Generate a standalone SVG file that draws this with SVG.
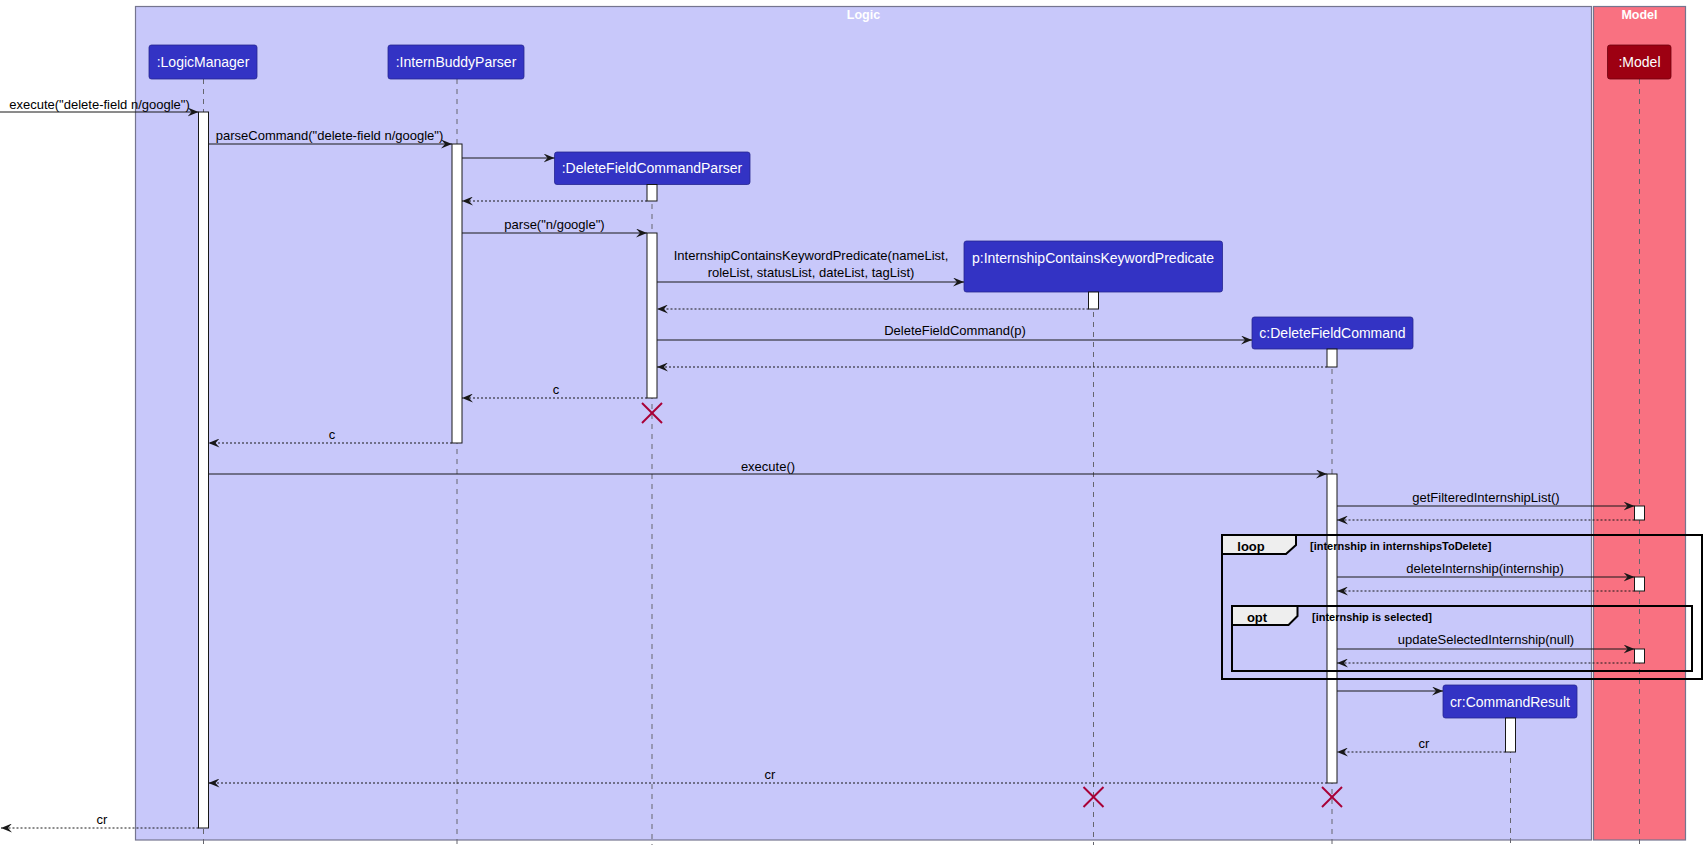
<svg xmlns="http://www.w3.org/2000/svg" width="1706" height="852" viewBox="0 0 1706 852">
<style>
text{font-family:"Liberation Sans",Arial,sans-serif}
.box{fill:#C8C8FA;stroke:#75758f;stroke-width:1.2}
.mbox{fill:#F97181;stroke:#75758f;stroke-width:1.2}
.title{fill:#fff;font-weight:bold;font-size:12.5px;text-anchor:middle}
.part{fill:#3333C4;stroke:#26268f;stroke-width:0.8}
.mpart{fill:#9D0012;stroke:#6d000c;stroke-width:0.8}
.ptext{fill:#fff;font-size:14px;text-anchor:middle}
.life{stroke:#66666e;stroke-width:1;stroke-dasharray:5,5;fill:none}
.act{fill:#fff;stroke:#181818;stroke-width:1}
.msg{stroke:#181818;stroke-width:1;fill:none;marker-end:url(#ah)}
.ret{stroke:#181818;stroke-width:1;fill:none;stroke-dasharray:2,2;marker-end:url(#ah)}
.lbl{fill:#000;font-size:13px;text-anchor:middle}
.x{stroke:#A80036;stroke-width:2}
.frame{fill:none;stroke:#000;stroke-width:2}
.tab{fill:#EEEEEE;stroke:#000;stroke-width:2}
.ftxt{font-weight:bold;font-size:13px;fill:#000}
.cond{font-weight:bold;font-size:11px;fill:#000}
</style>
<defs>
<marker id="ah" viewBox="0 0 11 9" refX="11" refY="4.5" markerWidth="11" markerHeight="9" markerUnits="userSpaceOnUse" orient="auto">
<path d="M0,0 L11,4.5 L0,9 L4,4.5 Z" fill="#181818"/>
</marker>
</defs>
<rect width="1706" height="852" fill="#fff"/>
<g id="box-logic">
<rect class="box" x="135.5" y="6.5" width="1456" height="833.5"/>
<text class="title" x="863.5" y="19">Logic</text>
</g>
<g id="box-model">
<rect class="mbox" x="1593.5" y="6.5" width="92" height="833.5"/>
<text class="title" x="1639.5" y="19">Model</text>
</g>
<g id="logicmanager">
<line class="life" x1="203.5" y1="79" x2="203.5" y2="845"/>
<rect class="part" x="149" y="45" width="108" height="34" rx="2.5"/>
<text class="ptext" x="203" y="67">:LogicManager</text>
<rect class="act" x="198.5" y="112" width="10" height="716"/>
</g>
<g id="internbuddyparser">
<line class="life" x1="457" y1="79" x2="457" y2="845"/>
<rect class="part" x="388" y="45" width="136" height="34" rx="2.5"/>
<text class="ptext" x="456" y="67">:InternBuddyParser</text>
<rect class="act" x="452" y="144" width="10" height="299"/>
</g>
<g id="deletefieldcommandparser">
<line class="life" x1="652" y1="184" x2="652" y2="845"/>
<rect class="part" x="554.5" y="152" width="195.5" height="32.5" rx="2.5"/>
<text class="ptext" x="652" y="173">:DeleteFieldCommandParser</text>
<rect class="act" x="647" y="184.5" width="10" height="16.5"/>
<rect class="act" x="647" y="233" width="10" height="165"/>
<line class="x" x1="642" y1="403" x2="662" y2="423"/>
<line class="x" x1="662" y1="403" x2="642" y2="423"/>
</g>
<g id="predicate">
<line class="life" x1="1093.5" y1="292" x2="1093.5" y2="845"/>
<rect class="part" x="964" y="241" width="258.5" height="51" rx="2.5"/>
<text class="ptext" x="1093" y="263">p:InternshipContainsKeywordPredicate</text>
<rect class="act" x="1088.5" y="292" width="10" height="17"/>
<line class="x" x1="1083.5" y1="787" x2="1103.5" y2="807"/>
<line class="x" x1="1103.5" y1="787" x2="1083.5" y2="807"/>
</g>
<g id="deletefieldcommand">
<line class="life" x1="1332" y1="349" x2="1332" y2="845"/>
<rect class="part" x="1252" y="317" width="161" height="32" rx="2.5"/>
<text class="ptext" x="1332.5" y="338">c:DeleteFieldCommand</text>
<rect class="act" x="1327" y="349" width="10" height="18"/>
<rect class="act" x="1327" y="474" width="10" height="309"/>
<line class="x" x1="1322" y1="787" x2="1342" y2="807"/>
<line class="x" x1="1342" y1="787" x2="1322" y2="807"/>
</g>
<g id="commandresult">
<line class="life" x1="1510.5" y1="718" x2="1510.5" y2="845"/>
<rect class="part" x="1443" y="685" width="134" height="33" rx="2.5"/>
<text class="ptext" x="1510" y="707">cr:CommandResult</text>
<rect class="act" x="1505.5" y="718" width="10" height="34"/>
</g>
<g id="model">
<line class="life" x1="1639.5" y1="79" x2="1639.5" y2="845"/>
<rect class="mpart" x="1607.5" y="45" width="63.5" height="34" rx="2.5"/>
<text class="ptext" x="1639.5" y="67">:Model</text>
<rect class="act" x="1634.5" y="506" width="10" height="14"/>
<rect class="act" x="1634.5" y="577" width="10" height="14"/>
<rect class="act" x="1634.5" y="649" width="10" height="14"/>
</g>
<g id="frame-loop">
<rect class="frame" x="1222" y="535" width="480" height="144"/>
<path class="tab" d="M1222,535 H1296 V545 L1286,554 H1222 Z"/>
<text class="ftxt" x="1251" y="550.5" text-anchor="middle">loop</text>
<text class="cond" x="1310" y="549.5">[internship in internshipsToDelete]</text>
</g>
<g id="frame-opt">
<rect class="frame" x="1232" y="606" width="460" height="65"/>
<path class="tab" d="M1232,606 H1297.5 V616 L1288.5,625 H1232 Z"/>
<text class="ftxt" x="1257" y="621.5" text-anchor="middle">opt</text>
<text class="cond" x="1312" y="620.5">[internship is selected]</text>
</g>
<g id="connectors">
<line class="msg" x1="0" y1="112" x2="198.5" y2="112"/>
<text class="lbl" x="99.5" y="108.5">execute("delete-field n/google")</text>
<line class="msg" x1="208.5" y1="144" x2="452" y2="144"/>
<text class="lbl" x="329.5" y="139.5">parseCommand("delete-field n/google")</text>
<line class="msg" x1="462" y1="158" x2="554.5" y2="158"/>
<line class="ret" x1="647" y1="201" x2="462" y2="201"/>
<line class="msg" x1="462" y1="233" x2="647" y2="233"/>
<text class="lbl" x="554.5" y="228.5">parse("n/google")</text>
<line class="msg" x1="657" y1="282" x2="964" y2="282"/>
<text class="lbl" x="811" y="259.5">InternshipContainsKeywordPredicate(nameList,</text>
<text class="lbl" x="811" y="276.5">roleList, statusList, dateList, tagList)</text>
<line class="ret" x1="1088.5" y1="309" x2="657" y2="309"/>
<line class="msg" x1="657" y1="340" x2="1252" y2="340"/>
<text class="lbl" x="955" y="334.5">DeleteFieldCommand(p)</text>
<line class="ret" x1="1327" y1="367" x2="657" y2="367"/>
<line class="ret" x1="647" y1="398" x2="462" y2="398"/>
<text class="lbl" x="556" y="393.5">c</text>
<line class="ret" x1="452" y1="443" x2="208.5" y2="443"/>
<text class="lbl" x="332" y="438.5">c</text>
<line class="msg" x1="208.5" y1="474" x2="1327" y2="474"/>
<text class="lbl" x="768" y="470.5">execute()</text>
<line class="msg" x1="1337" y1="506" x2="1634.5" y2="506"/>
<text class="lbl" x="1486" y="501.5">getFilteredInternshipList()</text>
<line class="ret" x1="1634.5" y1="520" x2="1337" y2="520"/>
<line class="msg" x1="1337" y1="577" x2="1634.5" y2="577"/>
<text class="lbl" x="1485" y="572.5">deleteInternship(internship)</text>
<line class="ret" x1="1634.5" y1="591" x2="1337" y2="591"/>
<line class="msg" x1="1337" y1="649" x2="1634.5" y2="649"/>
<text class="lbl" x="1486" y="643.5">updateSelectedInternship(null)</text>
<line class="ret" x1="1634.5" y1="663" x2="1337" y2="663"/>
<line class="msg" x1="1337" y1="691" x2="1443" y2="691"/>
<line class="ret" x1="1505.5" y1="752" x2="1337" y2="752"/>
<text class="lbl" x="1424" y="747.5">cr</text>
<line class="ret" x1="1327" y1="783" x2="208.5" y2="783"/>
<text class="lbl" x="770" y="778.5">cr</text>
<line class="ret" x1="198.5" y1="828" x2="1" y2="828"/>
<text class="lbl" x="102" y="823.5">cr</text>
</g>
</svg>
